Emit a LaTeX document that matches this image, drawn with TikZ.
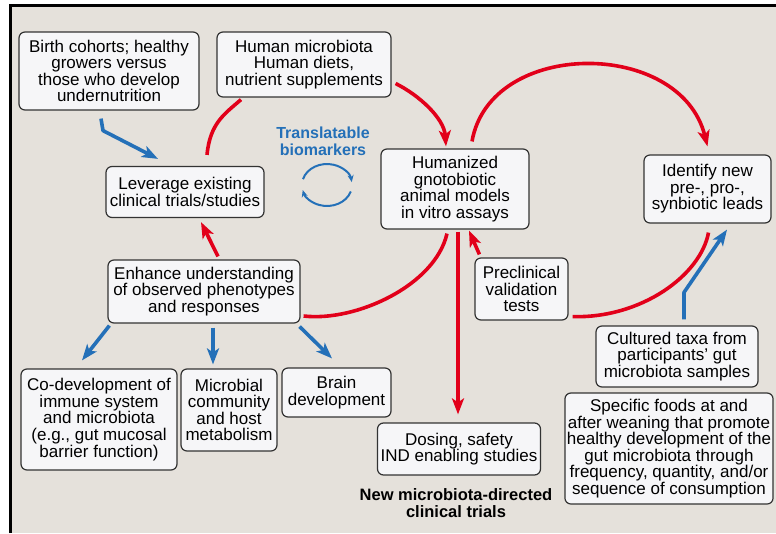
\documentclass[tikz,border=0pt]{standalone}
\usepackage{fontspec}
\setmainfont{Liberation Sans}
\usetikzlibrary{arrows.meta,calc,positioning}

\definecolor{panelbg}{HTML}{E5E1DB}
\definecolor{boxfill}{HTML}{F6F6F8}
\definecolor{loopred}{HTML}{E2001A}
\definecolor{linkblue}{HTML}{2470B8}

\tikzset{
  stage/.style={draw=black!80, fill=boxfill, rounded corners=6pt, line width=1.2pt,
    align=center, inner sep=2pt, font=\fontsize{17}{16.6}\selectfont},
  redline/.style={draw=loopred, line width=3.6pt},
  redarrow/.style={redline, -{Stealth[length=16pt,width=12pt,inset=4pt]}},
  bluearrow/.style={draw=linkblue, line width=3.6pt, line join=round,
    -{Stealth[length=16pt,width=12pt,inset=4pt]}},
  cyclearrow/.style={draw=linkblue, line width=2pt, -{Stealth[length=7pt,width=6pt]}}
}

\begin{document}
\begin{tikzpicture}[x=1pt,y=-1pt]
    \useasboundingbox (0,0) rectangle (776,533);

    % Panel
    \fill[white] (0,0) rectangle (776,533);
    \fill[panelbg] (10.5,5.5) rectangle (776,533);
    \draw[line width=3pt] (10.5,533) -- (10.5,5.5) -- (776,5.5);

    % Boxes
    \node[stage, minimum width=180pt, minimum height=78pt] (birth) at (109,71)
        {Birth cohorts; healthy\\growers versus\\those who develop\\undernutrition};
    \node[stage, minimum width=174pt, minimum height=65pt] (human) at (304,64.5)
        {Human microbiota\\Human diets,\\nutrient supplements};
    \node[stage, minimum width=158pt, minimum height=51pt] (lever) at (185,192)
        {Leverage existing\\clinical trials/studies};
    \node[stage, minimum width=148pt, minimum height=80pt] (humanized) at (455,189)
        {Humanized\\gnotobiotic\\animal models\\in vitro assays};
    \node[stage, minimum width=127pt, minimum height=68pt] (identify) at (707.5,189)
        {Identify new\\pre-, pro-,\\synbiotic leads};
    \node[stage, minimum width=192pt, minimum height=63pt] (enhance) at (204,291.5)
        {Enhance understanding\\of observed phenotypes\\and responses};
    \node[stage, minimum width=156pt, minimum height=101pt] (codev) at (99,419.5)
        {Co-development of\\immune system\\and microbiota\\(e.g., gut mucosal\\barrier function)};
    \node[stage, minimum width=96pt, minimum height=82pt] (microbial) at (229,410)
        {Microbial\\community\\and host\\metabolism};
    \node[stage, minimum width=109pt, minimum height=49pt] (brain) at (336.5,392.5)
        {Brain\\development};
    \node[stage, minimum width=163pt, minimum height=52pt] (dosing) at (459,449)
        {Dosing, safety\\IND enabling studies};
    \node[stage, minimum width=93pt, minimum height=62pt] (preclin) at (521.5,289)
        {Preclinical\\validation\\tests};
    \node[stage, minimum width=162pt, minimum height=61pt] (cultured) at (677,356.5)
        {Cultured taxa from\\participants' gut\\microbiota samples};
    \node[stage, minimum width=206pt, minimum height=111pt] (foods) at (669,448.5)
        {Specific foods at and\\after weaning that promote\\healthy development of the\\gut microbiota through\\frequency, quantity, and/or\\sequence of consumption};

    % Free labels
    \node[text=linkblue, align=center, font=\fontsize{16}{16.6}\selectfont\bfseries] (biom) at (323,141)
        {Translatable\\biomarkers};
    \node[align=center, font=\fontsize{16.5}{16.6}\selectfont\bfseries] (newtrials) at (456,503)
        {New microbiota-directed\\clinical trials};

    % Biomarker cycle
    \coordinate (cyc) at (327,185);
    \draw[cyclearrow] ($(cyc)+(196:25 and 21)$) arc[start angle=196, end angle=352, x radius=25, y radius=21];
    \draw[cyclearrow] ($(cyc)+(18:25 and 21)$) arc[start angle=18, end angle=166, x radius=25, y radius=21];

    % Red loop
    \draw[redline] ($(lever.north)+(22,-11)$) .. controls +(3,-32) and +(-16,14) .. ($(human.south)+(-63,2)$);
    \draw[redarrow] ($(enhance.north)+(14,-3)$) -- ($(lever.south)+(16,4)$);
    \draw[redarrow] ($(human.east)+(4,19)$) .. controls +(24,12) and +(-2,-28) .. ($(humanized.north)+(-9,-2)$);
    \draw[redarrow] ($(humanized.north)+(17,-7)$) .. controls +(18,-103) and +(-27,-108) .. ($(identify.north)+(0,-8)$);
    \draw[redline] ($(humanized.south)+(-8,4)$) .. controls +(-12,52) and +(52,6) .. ($(enhance.east)+(3,24.5)$);
    \draw[redarrow] ($(humanized.south)+(3,2)$) -- ($(dosing.north)+(-1,-8)$);
    \draw[redarrow] ($(preclin.north west)+(5,-3)$) -- ($(humanized.south)+(14,1)$);
    \draw[redline] ($(preclin.south east)+(4,-4)$) .. controls +(68,2) and +(-8,43) .. ($(identify.south)+(1,9)$);

    % Blue links
    \draw[bluearrow] ($(birth.south)+(-8,8)$) -- ++(2,12) -- ($(lever.north)+(-27,-7)$);
    \draw[bluearrow] ($(cultured.north)+(7,-6)$) -- ++(0,-27) -- ($(identify.south)+(19.5,6)$);
    \draw[bluearrow] ($(enhance.south west)+(2,2)$) -- ($(codev.north)+(-17,-8)$);
    \draw[bluearrow] ($(enhance.south)+(9,4)$) -- ($(microbial.north)+(-16,-4)$);
    \draw[bluearrow] ($(enhance.south east)+(-1,3)$) -- ($(brain.north)+(-4.5,-9)$);

\end{tikzpicture}
\end{document}
